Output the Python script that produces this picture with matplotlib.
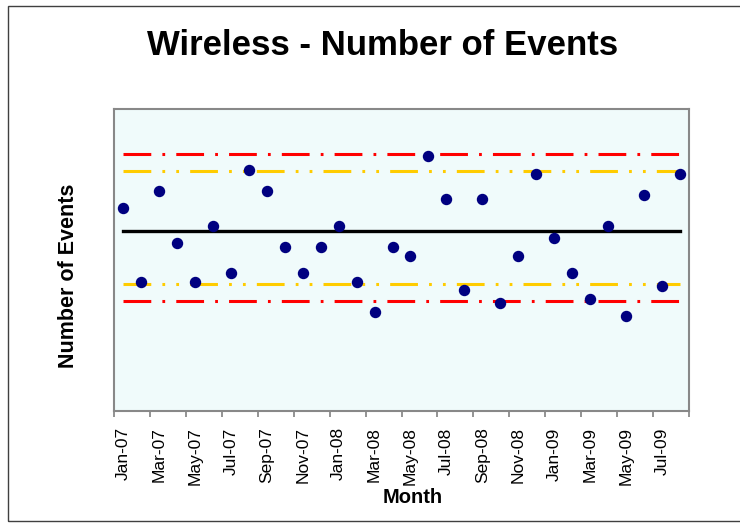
import matplotlib
matplotlib.use('Agg')
import matplotlib.pyplot as plt
from matplotlib.patches import Rectangle
import numpy as np

plt.rcParams['font.family'] = ['Liberation Sans', 'DejaVu Sans']
plt.rcParams['lines.scale_dashes'] = False

# monthly categories, Jan-07 .. Aug-09
months = ['Jan-07', 'Feb-07', 'Mar-07', 'Apr-07', 'May-07', 'Jun-07', 'Jul-07', 'Aug-07',
          'Sep-07', 'Oct-07', 'Nov-07', 'Dec-07', 'Jan-08', 'Feb-08', 'Mar-08', 'Apr-08',
          'May-08', 'Jun-08', 'Jul-08', 'Aug-08', 'Sep-08', 'Oct-08', 'Nov-08', 'Dec-08',
          'Jan-09', 'Feb-09', 'Mar-09', 'Apr-09', 'May-09', 'Jun-09', 'Jul-09', 'Aug-09']

# number of events (axis has no scale in the original, read as % of axis height)
events = [67.1, 42.8, 72.9, 55.5, 42.8, 61.2, 45.6, 79.9,
          72.9, 54.3, 45.6, 54.3, 61.2, 42.8, 32.7, 54.3,
          51.4, 84.4, 70.1, 39.9, 70.1, 35.7, 51.4, 78.6,
          57.1, 45.6, 37.0, 61.3, 31.3, 71.5, 41.3, 78.6]

center_line = 59.6
upper_control = 85.0
upper_warning = 79.4
lower_warning = 42.1
lower_control = 36.4

fig = plt.figure(figsize=(7.4, 5.24), dpi=100)
ax = fig.add_axes([114 / 740, 1 - 410.7 / 524, 575 / 740, 301.7 / 524])
ax.set_facecolor('#F0FBFB')

x = np.arange(len(months))
n = len(x)

ax.plot(x, [upper_control] * n, color='#FF0000', lw=2.2,
        dashes=(20, 8, 2, 8), dash_capstyle='butt', zorder=2)
ax.plot(x, [lower_control] * n, color='#FF0000', lw=2.2,
        dashes=(20, 8, 2, 8), dash_capstyle='butt', zorder=2)
ax.plot(x, [upper_warning] * n, color='#FFCC00', lw=2.2,
        dashes=(20, 8, 2, 8, 2, 8), dash_capstyle='butt', zorder=2)
ax.plot(x, [lower_warning] * n, color='#FFCC00', lw=2.2,
        dashes=(20, 8, 2, 8, 2, 8), dash_capstyle='butt', zorder=2)
ax.plot(x, [center_line] * n, color='black', lw=2.4, zorder=2)

ax.plot(x, events, linestyle='none', marker='o', markersize=7.2,
        color='#000080', zorder=3)

ax.set_xlim(-0.5, n - 0.5)
ax.set_ylim(0, 100)
ax.set_yticks([])

ax.set_xticks(np.arange(-0.5, n, 2))
ax.set_xticks(x[::2], minor=True)
ax.set_xticklabels(months[::2], minor=True, rotation=90)
ax.tick_params(axis='x', which='major', length=4.5, width=1.2,
               color='#808080', labelbottom=False)
ax.tick_params(axis='x', which='minor', length=0, pad=12, labelsize=12.5)

for s in ax.spines.values():
    s.set_color('#888888')
    s.set_linewidth(1.5)

fig.text(383 / 740, 1 - 45.5 / 524, 'Wireless - Number of Events',
         fontsize=25, fontweight='bold', ha='center', va='center')
fig.text(68 / 740, 1 - 276 / 524, 'Number of Events', rotation=90,
         fontsize=15.5, fontweight='bold', ha='center', va='center')
fig.text(413 / 740, 1 - 503 / 524, 'Month',
         fontsize=14.5, fontweight='bold', ha='center', va='baseline')

# chart outer border (right edge runs off the picture)
fig.add_artist(Rectangle((8 / 740, 1 - 521 / 524), 1.2, 515 / 524,
                         transform=fig.transFigure, fill=False,
                         edgecolor='#404040', lw=1.0))

fig.savefig('out.png', dpi=100)
